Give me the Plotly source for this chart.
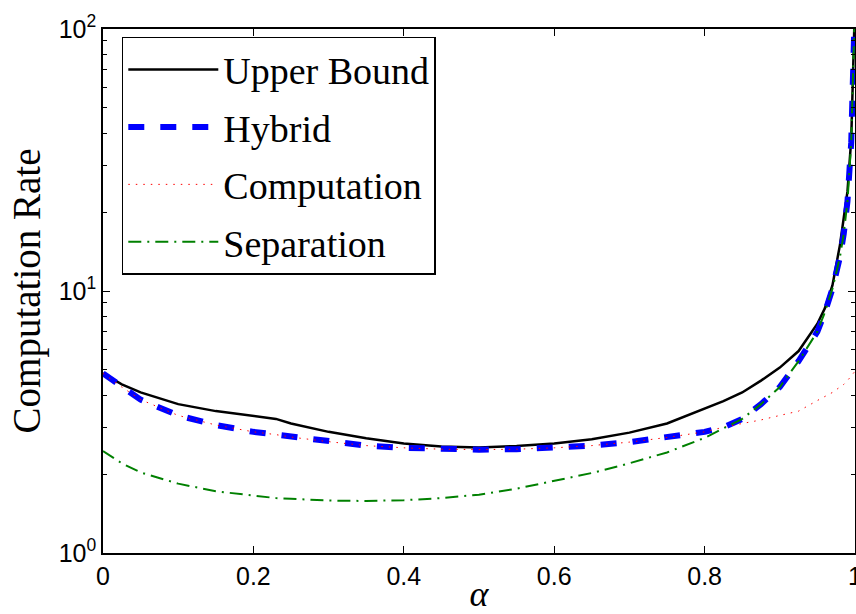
import plotly.graph_objects as go

alpha = [0, 0.025, 0.05, 0.1, 0.15, 0.2, 0.23, 0.25, 0.3, 0.35, 0.4, 0.45, 0.5, 0.55,
         0.6, 0.65, 0.7, 0.75, 0.8, 0.825, 0.85, 0.875, 0.9, 0.925, 0.95, 0.96, 0.97,
         0.98, 0.985, 0.99, 0.995, 0.999]

upper_bound = [4.85, 4.4, 4.1, 3.7, 3.48, 3.33, 3.25, 3.12, 2.9, 2.74, 2.62, 2.55, 2.53, 2.56,
               2.62, 2.72, 2.88, 3.12, 3.55, 3.8, 4.1, 4.55, 5.1, 5.9, 7.5, 8.6, 10.5,
               15.0, 19.0, 24.0, 38.0, 100.0]

hybrid = [4.85, 4.3, 3.85, 3.35, 3.08, 2.9, 2.83, 2.77, 2.66, 2.57, 2.52, 2.49, 2.48, 2.49,
          2.52, 2.57, 2.65, 2.76, 2.9, 3.02, 3.25, 3.7, 4.3, 5.4, 7.0, 8.3, 10.2,
          13.5, 16.5, 22.0, 37.0, 100.0]

computation = [4.85, 4.3, 3.85, 3.35, 3.08, 2.9, 2.83, 2.77, 2.66, 2.57, 2.52, 2.49, 2.48, 2.49,
               2.52, 2.57, 2.65, 2.76, 2.9, 3.02, 3.12, 3.22, 3.35, 3.48, 3.82, 3.95, 4.1,
               4.3, 4.4, 4.55, 4.75, 4.9]

separation = [2.45, 2.2, 2.03, 1.84, 1.72, 1.65, 1.62, 1.61, 1.585, 1.58, 1.59, 1.62, 1.67, 1.76,
              1.88, 2.02, 2.2, 2.42, 2.75, 3.0, 3.25, 3.7, 4.3, 5.4, 7.0, 8.3, 10.2,
              13.5, 16.5, 22.0, 37.0, 100.0]

series_names = ["Upper Bound", "Hybrid", "Computation", "Separation"]
y_tickvals = [1, 10, 100]
y_ticktext = ["10<sup>0</sup>", "10<sup>1</sup>", "10<sup>2</sup>"]
x_tickvals = [0, 0.2, 0.4, 0.6, 0.8, 1]
x_ticktext = ["0", "0.2", "0.4", "0.6", "0.8", "1"]

fig = go.Figure()
fig.add_trace(go.Scatter(x=alpha, y=upper_bound, name=series_names[0], mode="lines",
                         legendgroup="a",
                         line=dict(color="black", width=2.5)))
fig.add_trace(go.Scatter(x=alpha, y=hybrid, name=series_names[1], mode="lines",
                         legendgroup="b",
                         line=dict(color="#0000ff", width=6, dash="16px,16px")))
fig.add_trace(go.Scatter(x=alpha, y=computation, name=series_names[2], mode="lines",
                         legendgroup="c",
                         line=dict(color="#ff0000", width=1, dash="1.5px,6px")))
fig.add_trace(go.Scatter(x=alpha, y=separation, name=series_names[3], mode="lines",
                         legendgroup="d",
                         line=dict(color="#008000", width=2, dash="13px,6px,2px,6px")))

minor_vals = [v * m for v in (1, 10) for m in range(2, 10)]

fig.update_layout(
    width=856, height=614,
    margin=dict(l=103, r=1, t=29, b=61),
    paper_bgcolor="white", plot_bgcolor="white",
    font=dict(family="Liberation Sans", size=25, color="black"),
    legend=dict(
        x=0.025, y=0.985, xanchor="left", yanchor="top",
        bgcolor="white", bordercolor="black", borderwidth=1.5,
        font=dict(family="Liberation Serif", size=38, color="black"),
        itemwidth=90, tracegroupgap=5,
    ),
    xaxis=dict(
        range=[0, 1], tickvals=x_tickvals, ticktext=x_ticktext,
        ticks="inside", ticklen=7, tickwidth=1, tickcolor="black",
        showline=True, linecolor="black", linewidth=1.5, mirror="ticks",
        showgrid=False, zeroline=False, automargin=False, ticklabeloverflow="allow",
        title=dict(text="<i>α</i>", font=dict(family="Liberation Serif", size=36), standoff=4),
    ),
    yaxis=dict(
        type="log", range=[0, 2], tickvals=y_tickvals, ticktext=y_ticktext,
        ticks="inside", ticklen=7, tickwidth=1, tickcolor="black",
        showline=True, linecolor="black", linewidth=1.5, mirror="ticks",
        showgrid=False, zeroline=False, automargin=False,
        minor=dict(tickvals=minor_vals, ticks="inside", ticklen=4, tickcolor="black", showgrid=False),
        title=dict(text="Computation Rate", font=dict(family="Liberation Serif", size=39), standoff=6),
    ),
)

fig.write_html(
    "out.html",
    config={"displayModeBar": False},
    post_script="document.body.style.margin='0';document.body.style.overflow='hidden';",
)
